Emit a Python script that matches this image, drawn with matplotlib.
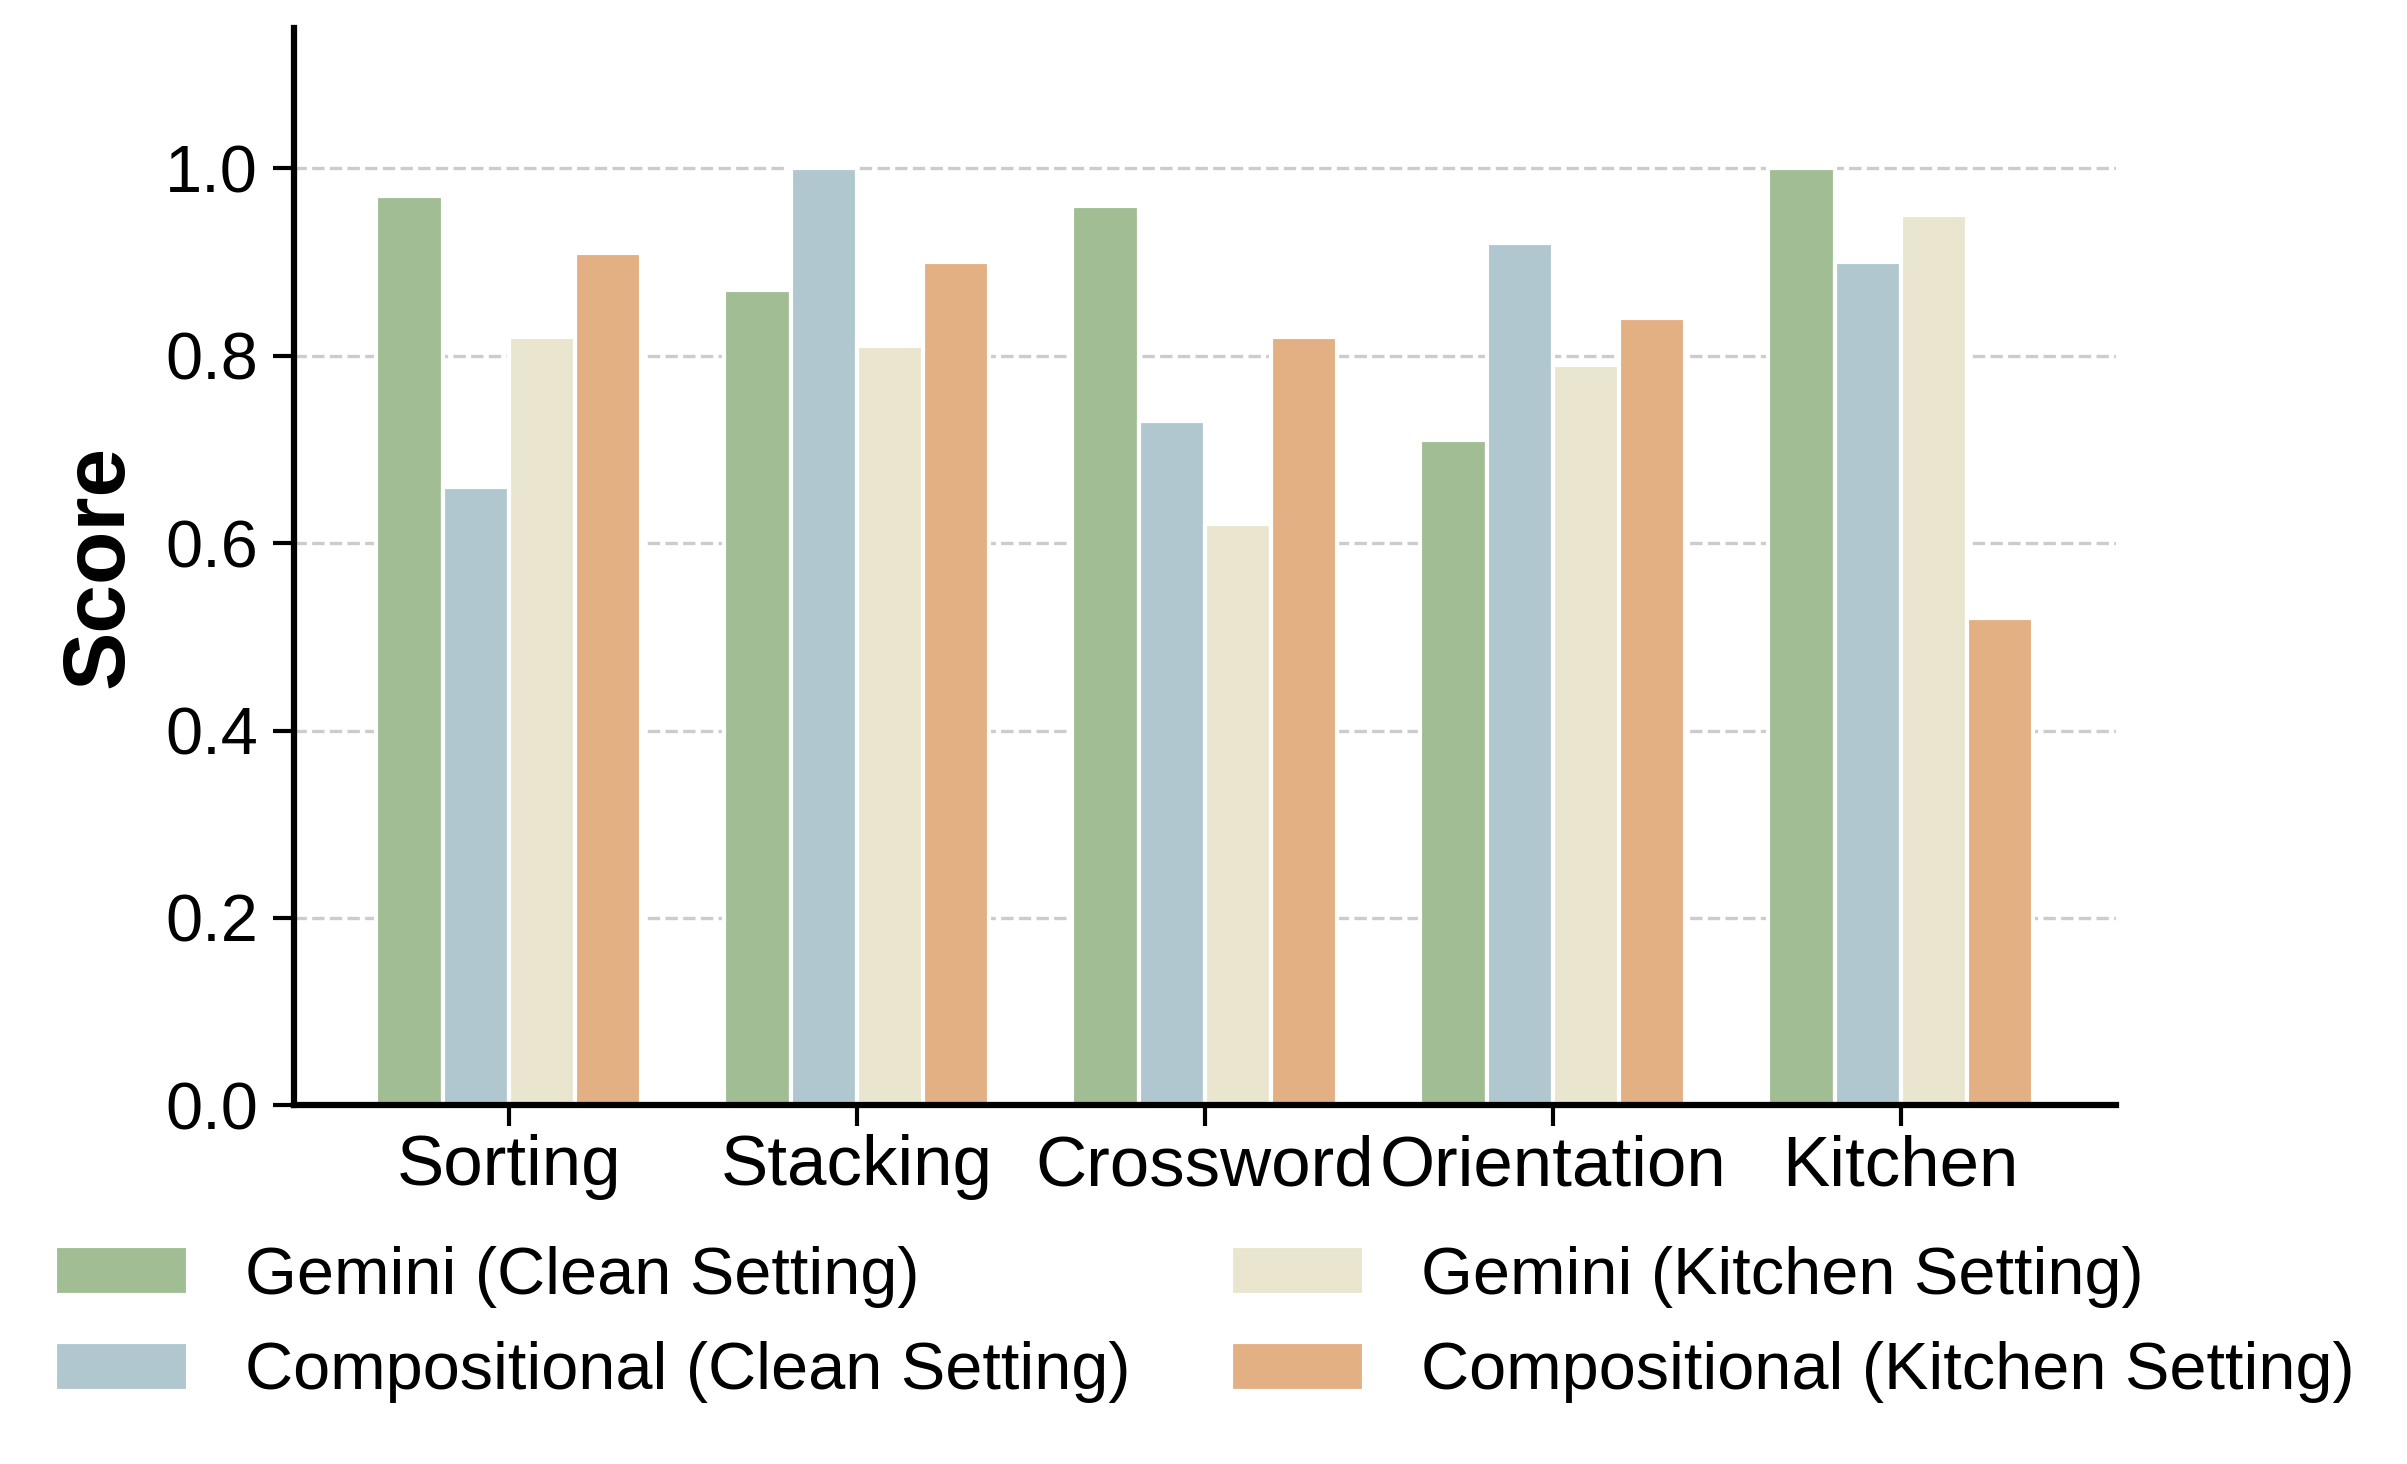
import matplotlib
matplotlib.use("Agg")
import matplotlib.pyplot as plt
import numpy as np

plt.rcParams['font.family'] = ['Liberation Sans', 'DejaVu Sans']

tasks = ['Sorting', 'Stacking', 'Crossword', 'Orientation', 'Kitchen']
series_names = ['Gemini (Clean Setting)', 'Compositional (Clean Setting)',
                'Gemini (Kitchen Setting)', 'Compositional (Kitchen Setting)']
gemini_clean = [0.97, 0.87, 0.96, 0.71, 1.00]
comp_clean = [0.66, 1.00, 0.73, 0.92, 0.90]
gemini_kitchen = [0.82, 0.81, 0.62, 0.79, 0.95]
comp_kitchen = [0.91, 0.90, 0.82, 0.84, 0.52]
colors = ['#a1bd94', '#b0c7cf', '#e9e5cf', '#e3b084']

all_series = [gemini_clean, comp_clean, gemini_kitchen, comp_kitchen]

fig = plt.figure(figsize=(2407 / 300, 1464 / 300), dpi=300)
ax = fig.add_axes([0.122, 0.245, 0.757, 0.736])

x = np.arange(len(tasks))
w = 0.19
for i, (vals, name, c) in enumerate(zip(all_series, series_names, colors)):
    ax.bar(x + (i - 1.5) * w, vals, w, color=c, label=name,
           edgecolor='white', linewidth=1, zorder=2)

ax.set_ylim(0, 1.15)
ax.set_yticks([0.0, 0.2, 0.4, 0.6, 0.8, 1.0])
ax.set_yticklabels(['0.0', '0.2', '0.4', '0.6', '0.8', '1.0'])
ax.set_xticks(x)
ax.set_xticklabels(tasks)
ax.tick_params(axis='y', labelsize=16, width=1, length=5)
ax.tick_params(axis='x', labelsize=17, width=1, length=5, pad=2)
ax.set_ylabel('Score', fontsize=21, fontweight='bold', labelpad=6)
ax.set_axisbelow(True)
ax.grid(axis='y', linestyle='--', color='#cccccc', linewidth=0.8)
ax.spines['top'].set_visible(False)
ax.spines['right'].set_visible(False)
ax.spines['left'].set_linewidth(1.5)
ax.spines['bottom'].set_linewidth(1.5)
ax.spines['left'].set_zorder(5)
ax.spines['bottom'].set_zorder(5)

ax.legend(loc='upper center', bbox_to_anchor=(0.5, -0.075), ncol=2,
          frameon=False, fontsize=16, handlelength=2.0, handleheight=0.75,
          handletextpad=0.85, columnspacing=1.5, labelspacing=0.5)

fig.savefig('out.png', dpi=300)
